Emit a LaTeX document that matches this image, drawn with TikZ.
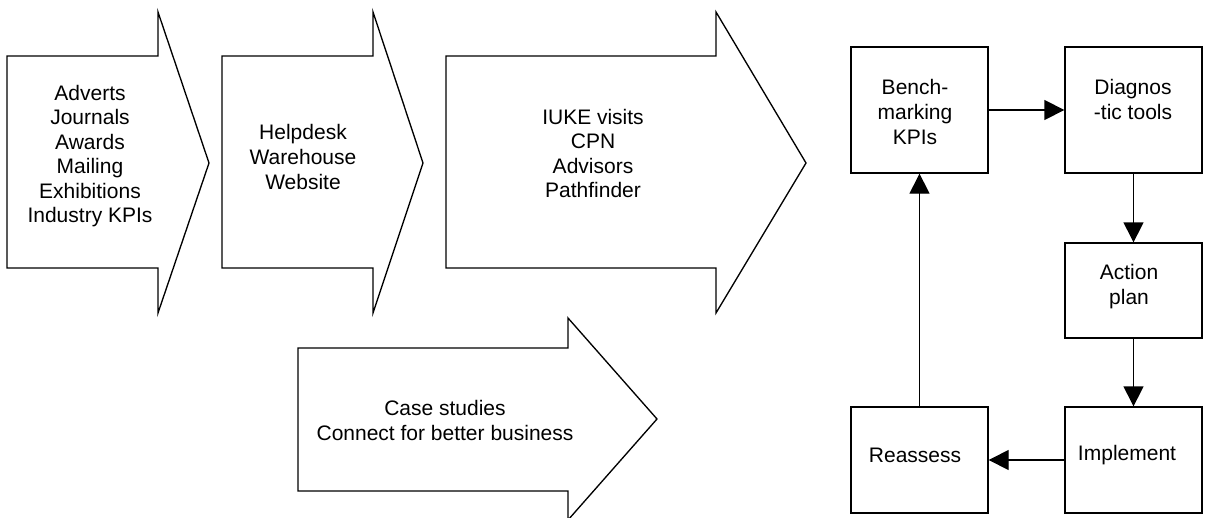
\documentclass[tikz,border=0pt]{standalone}
\usepackage{fontspec}
\setmainfont{Liberation Sans}
\usetikzlibrary{arrows.meta}
\begin{document}
\begin{tikzpicture}[x=0.75pt,y=-0.75pt,line width=1pt,
  bigarrow/.style={draw=black,fill=white,line join=miter},
  lbl/.style={font=\fontsize{15.75}{18.4}\selectfont,align=center,inner sep=0pt},
  stepbox/.style={draw,inner sep=0pt,minimum width=102.75pt},
  conn/.style={-{Triangle[length=15pt,width=15pt]}}]
\useasboundingbox (0,0) rectangle (1205,517);
% big arrows
\draw[bigarrow] (7,56)--(158,56)--(158,12)--(209,163)--(158,313)--(158,268)--(7,268)--cycle;
\draw[bigarrow] (222,56)--(373,56)--(373,12)--(423,163)--(373,313)--(373,268)--(222,268)--cycle;
\draw[bigarrow] (446,56)--(716,56)--(716,12)--(806,163)--(716,313)--(716,268)--(446,268)--cycle;
\draw[bigarrow] (298,348)--(568,348)--(568,318)--(657,419)--(568,520)--(568,491)--(298,491)--cycle;
\node[lbl] (t1) at (90,156) {Adverts\\Journals\\Awards\\Mailing\\Exhibitions\\Industry KPIs};
\node[lbl] (t2) at (303,157) {Helpdesk\\Warehouse\\Website};
\node[lbl] (t3) at (593,153.5) {IUKE visits\\CPN\\Advisors\\Pathfinder};
\node[lbl] (t4) at (445,420.5) {Case studies\\Connect for better business};
% cycle boxes
\node[stepbox,minimum height=94.5pt] (bench) at (919.5,110) {};
\node[stepbox,minimum height=94.5pt] (diag) at (1133.5,110) {};
\node[stepbox,minimum height=71.25pt] (action) at (1133.5,290.5) {};
\node[stepbox,minimum height=79.5pt] (impl) at (1133.5,460) {};
\node[stepbox,minimum height=79.5pt] (reass) at (919.5,460) {};
\node[lbl] (benchT) at (915,112) {Bench-\\marking\\KPIs};
\node[lbl] (diagT) at (1133,99.5) {Diagnos\\-tic tools};
\node[lbl] (actionT) at (1129,286.5) {Action\\plan};
\node[lbl] (implT) at (1127,455) {Implement};
\node[lbl] (reassT) at (915,455) {Reassess};
% connectors
\draw[conn] (bench) -- (diag);
\draw[conn] (diag) -- (action);
\draw[conn] (action) -- (impl);
\draw[conn] (impl) -- (reass);
\draw[conn] (reass) -- (bench);
\end{tikzpicture}
\end{document}
